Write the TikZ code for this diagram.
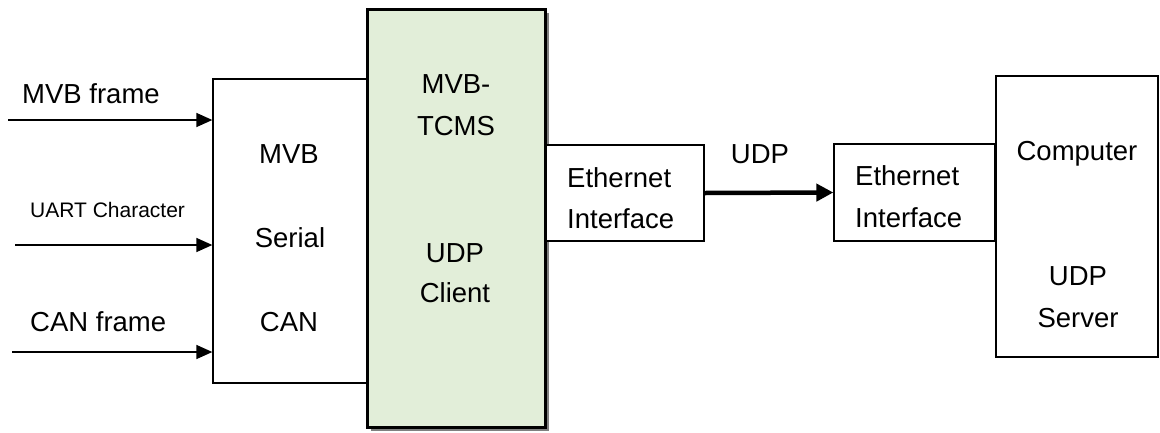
\documentclass[tikz,border=0pt]{standalone}
\usepackage{fontspec}
\setmainfont{Liberation Sans}
\usetikzlibrary{arrows.meta,shadows}
\definecolor{boxgreen}{HTML}{E2EED9}
\begin{document}
\begin{tikzpicture}[x=1pt,y=-1pt,
  thinbox/.style={draw=black,line width=1.3pt,fill=white,rectangle,inner sep=0pt},
  bigtxt/.style={font=\fontsize{27.5}{32}\selectfont,inner sep=0pt},
  smalltxt/.style={font=\fontsize{21}{25}\selectfont,inner sep=0pt},
  inarrow/.style={line width=1.4pt,-{Triangle[length=16pt,width=14pt]}},
  udparrow/.style={line width=4.5pt,-{Triangle[length=17pt,width=17pt]}}]
\useasboundingbox (0,0) rectangle (1160,432);

% left input box
\node[thinbox,minimum width=167pt,minimum height=304pt] (lbox) at (296.5,231) {};
% main green box
\node[draw=black,line width=3pt,fill=boxgreen,rectangle,inner sep=0pt,
  minimum width=178pt,minimum height=418pt,
  drop shadow={shadow xshift=4pt,shadow yshift=-4pt,fill=gray,opacity=1}] (tcms) at (456,218) {};
% ethernet interfaces
\node[thinbox,minimum width=158pt,minimum height=96pt] (eth1) at (625,193) {};
\node[thinbox,minimum width=161pt,minimum height=97pt] (eth2) at (914.5,192.5) {};
% computer
\node[draw=black,line width=2.7pt,fill=white,rectangle,inner sep=0pt,
  minimum width=162pt,minimum height=281pt] (comp) at (1077,216.5) {};

% input labels
\node[bigtxt,anchor=base west] (lmvb) at (22,103) {MVB frame};
\node[smalltxt,anchor=base west] (luart) at (30,217) {UART Character};
\node[bigtxt,anchor=base west] (lcan) at (30,331) {CAN frame};

% input arrows
\coordinate (inA) at (8,120);
\coordinate (inB) at (15,245);
\coordinate (inC) at (12,352);
\draw[inarrow] (inA) -- (lbox.west |- inA);
\draw[inarrow] (inB) -- (lbox.west |- inB);
\draw[inarrow] (inC) -- (lbox.west |- inC);

% left box texts
\node[bigtxt,anchor=base] (tmvb) at (289,163) {MVB};
\node[bigtxt,anchor=base] (tser) at (290,247) {Serial};
\node[bigtxt,anchor=base] (tcan) at (289,331) {CAN};

% green box texts
\node[bigtxt,anchor=base] (g1) at (456,93) {MVB-};
\node[bigtxt,anchor=base] (g2) at (456,135) {TCMS};
\node[bigtxt,anchor=base] (g3) at (455,262) {UDP};
\node[bigtxt,anchor=base] (g4) at (455,302) {Client};

% ethernet texts
\node[bigtxt,anchor=base west] (e1a) at (567,187) {Ethernet};
\node[bigtxt,anchor=base west] (e1b) at (567,228) {Interface};
\node[bigtxt,anchor=base west] (e2a) at (855,185) {Ethernet};
\node[bigtxt,anchor=base west] (e2b) at (855,227) {Interface};

% UDP arrow
\draw[udparrow] (eth1.east) -- (eth2.west);
\node[bigtxt,anchor=base] (udpl) at (760,163) {UDP};

% computer texts
\node[bigtxt,anchor=base] (c1) at (1077,160) {Computer};
\node[bigtxt,anchor=base] (c2) at (1078,285) {UDP};
\node[bigtxt,anchor=base] (c3) at (1078,327) {Server};
\end{tikzpicture}
\end{document}
